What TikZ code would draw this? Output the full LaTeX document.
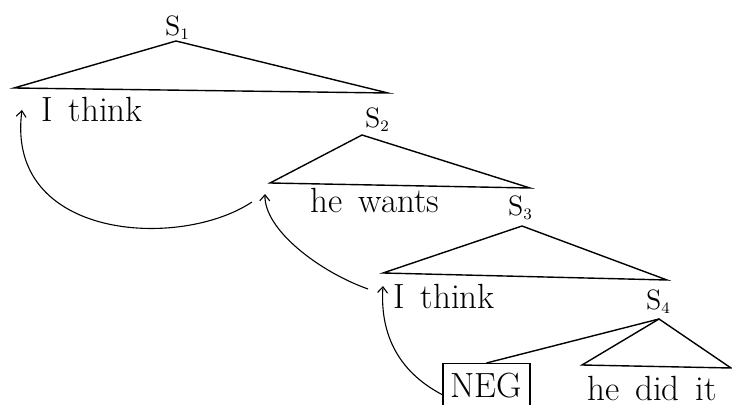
\documentclass[tikz,border=0pt]{standalone}
\usetikzlibrary{arrows.meta}
\newcommand\wordfont{\fontsize{17.5}{20}\selectfont\spaceskip=8pt plus 2pt\relax}
\newcommand\catlab[1]{S\raisebox{-0.35ex}{\fontsize{8}{9}\selectfont #1}}
\begin{document}
\begin{tikzpicture}[x=0.5pt, y=-0.5pt, line width=0.7pt,
  every node/.style={inner sep=0pt},
  cat/.style={font=\fontsize{14}{16}\selectfont},
  word/.style={anchor=base, font=\wordfont},
  negbox/.style={draw, anchor=north, minimum width=43.5pt, inner ysep=6pt,
    text height=11pt, text depth=8pt, font=\wordfont},
  move/.style={line width=0.55pt, -{Straight Barb[length=3pt,width=5pt]}}]
\useasboundingbox (0,0) rectangle (732,405);
\coordinate (a1) at (176,41); \coordinate (b1) at (14,88);  \coordinate (c1) at (388,93);
\coordinate (a2) at (362,135); \coordinate (b2) at (270,183); \coordinate (c2) at (530,188);
\coordinate (a3) at (522,226); \coordinate (b3) at (383,273); \coordinate (c3) at (667,280);
\coordinate (a4) at (659,319); \coordinate (b4) at (582,365); \coordinate (c4) at (731,368);
\node[cat] (s1) at (177,28)  {\catlab{1}};
\node[cat] (s2) at (377,120) {\catlab{2}};
\node[cat] (s3) at (520,208) {\catlab{3}};
\node[cat] (s4) at (658,302) {\catlab{4}};
\draw (a1) -- (b1) -- (c1) -- cycle;
\draw (a2) -- (b2) -- (c2) -- cycle;
\draw (a3) -- (b3) -- (c3) -- cycle;
\draw (a4) -- (b4) -- (c4) -- cycle;
\node[word] (think1) at (92,122) {I think};
\node[word] (wants) at (375,213) {he wants};
\node[word] (think2) at (444,308) {I think};
\node[word] (didit) at (652,400) {he did it};
\node[negbox] (neg) at (486.5,363) {NEG};
\draw (a4) -- (neg.north);
\coordinate (e1) at (22,110); \coordinate (f1) at (252,202);
\coordinate (e2) at (265,194); \coordinate (f2) at (368,289);
\coordinate (e3) at (383,286);
\draw[move] (f1) .. controls (180,250) and (5,240) .. (e1);
\draw[move] (f2) .. controls (320,272) and (264,230) .. (e2);
\draw[move] (neg.west) .. controls (395,370) and (380,330) .. (e3);
\end{tikzpicture}
\end{document}
